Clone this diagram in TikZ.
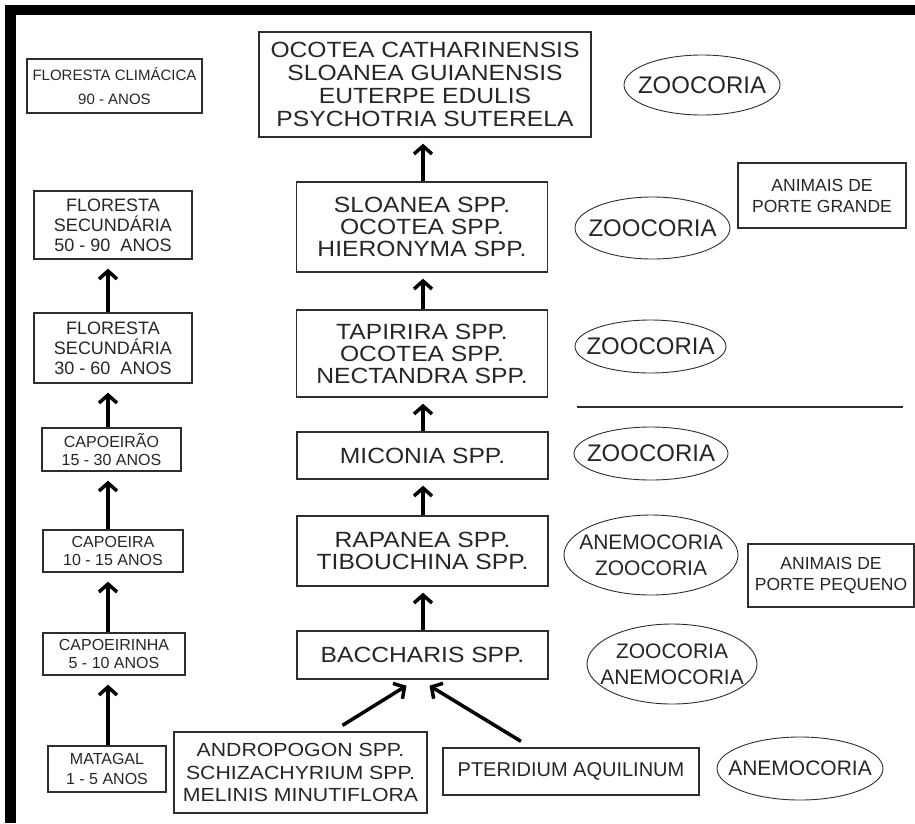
\documentclass[tikz,border=0pt]{standalone}
\usepackage{fontspec}
\setmainfont{Liberation Sans}
\newfontfamily\widefont[FakeStretch=1.12]{Liberation Sans}
\usetikzlibrary{arrows.meta, shapes.geometric}

\begin{document}
\begin{tikzpicture}[x=1pt, y=-1pt,
    box/.style={draw=lineColour, line width=1.3pt, align=center, inner sep=0pt, text=textColour},
    agebox/.style={box, font=\fontsize{16}{17.5}\selectfont},
    forestbox/.style={box, font=\fontsize{18}{20}\selectfont},
    speciesbox/.style={box, font=\widefont\fontsize{22}{22}\selectfont, minimum width=251pt},
    faunabox/.style={box, font=\fontsize{17.5}{21}\selectfont},
    dispersal/.style={ellipse, draw=lineColour, line width=0.9pt, inner sep=0pt},
    disptext/.style={align=center, inner sep=0pt, text=textColour, font=\fontsize{21}{26}\selectfont},
    flow/.style={-{Straight Barb[length=8pt,width=18pt]}, line width=3.5pt, black}]

    % Define colours
    \definecolor{lineColour}{HTML}{2E2E2E}
    \definecolor{textColour}{HTML}{262626}

    % Fix the page size
    \useasboundingbox (0,0) rectangle (915,823);

    % Draw the frame (top and left edges)
    \fill[black] (5,5) rectangle (915,15);
    \fill[black] (5,5) rectangle (16,823);

    % Columns of the arrows
    \coordinate (lcol) at (108,0);
    \coordinate (ccol) at (423,0);

    % Age of the vegetation
    \node[agebox, font=\fontsize{15}{24}\selectfont, minimum width=175pt, minimum height=54pt] (clim) at (114.5,86) {FLORESTA CLIMÁCICA\\90 - ANOS};
    \node[forestbox, minimum width=158pt, minimum height=68pt] (sec50) at (113,225) {FLORESTA\\SECUNDÁRIA\\50 - 90 \ ANOS};
    \node[forestbox, minimum width=158pt, minimum height=70pt] (sec30) at (113,348) {FLORESTA\\SECUNDÁRIA\\30 - 60 \ ANOS};
    \node[agebox, minimum width=139pt, minimum height=43pt] (capoeirao) at (111.5,449.5) {CAPOEIRÃO\\15 - 30 ANOS};
    \node[agebox, minimum width=140pt, minimum height=42pt] (capoeira) at (113,551) {CAPOEIRA\\10 - 15 ANOS};
    \node[agebox, minimum width=142pt, minimum height=42pt] (capoeirinha) at (114,654) {CAPOEIRINHA\\5 - 10 ANOS};
    \node[agebox, font=\fontsize{16}{20}\selectfont, minimum width=118pt, minimum height=46pt] (matagal) at (107,769) {MATAGAL\\1 - 5 ANOS};

    % Species of each stage
    \node[speciesbox, font=\widefont\fontsize{22}{23}\selectfont, minimum width=332pt, minimum height=105pt] (climax) at (425,84.5) {OCOTEA CATHARINENSIS\\SLOANEA GUIANENSIS\\EUTERPE EDULIS\\PSYCHOTRIA SUTERELA};
    \node[speciesbox, minimum height=90pt] (sloanea) at (422,227) {SLOANEA SPP.\\OCOTEA SPP.\\HIERONYMA SPP.};
    \node[speciesbox, minimum height=87pt] (tapirira) at (422,353.5) {TAPIRIRA SPP.\\OCOTEA SPP.\\NECTANDRA SPP.};
    \node[speciesbox, minimum height=47pt] (miconia) at (422.5,455.5) {MICONIA SPP.};
    \node[speciesbox, minimum height=70pt] (rapanea) at (422.5,551) {RAPANEA SPP.\\TIBOUCHINA SPP.};
    \node[speciesbox, minimum height=48pt] (baccharis) at (422.5,655) {BACCHARIS SPP.};
    \node[speciesbox, font=\widefont\fontsize{19}{22.5}\selectfont, minimum width=253pt, minimum height=81pt] (andropogon) at (300.5,772.5) {ANDROPOGON SPP.\\SCHIZACHYRIUM SPP.\\MELINIS MINUTIFLORA};
    \node[speciesbox, font=\fontsize{20}{22}\selectfont, minimum width=256pt, minimum height=47pt] (pteridium) at (571,771.5) {PTERIDIUM AQUILINUM};

    % Seed dispersal
    \node[dispersal, minimum width=156pt, minimum height=60pt, label={[disptext, font=\fontsize{24}{26}\selectfont]center:ZOOCORIA}] (zooA) at (702,85) {};
    \node[dispersal, minimum width=155pt, minimum height=62pt, label={[disptext, font=\fontsize{24}{26}\selectfont]center:ZOOCORIA}] (zooB) at (652.5,228) {};
    \node[dispersal, minimum width=151pt, minimum height=53pt, label={[disptext, font=\fontsize{24}{26}\selectfont]center:ZOOCORIA}] (zooC) at (650.5,346.5) {};
    \node[dispersal, minimum width=154pt, minimum height=53pt, label={[disptext, font=\fontsize{24}{26}\selectfont]center:ZOOCORIA}] (zooD) at (651,453.5) {};
    \node[dispersal, minimum width=174pt, minimum height=80pt, label={[disptext]center:ANEMOCORIA\\ZOOCORIA}] (anezoo) at (651,555) {};
    \node[dispersal, minimum width=170pt, minimum height=80pt, label={[disptext]center:ZOOCORIA\\ANEMOCORIA}] (zooane) at (672,664) {};
    \node[dispersal, minimum width=166pt, minimum height=63pt, label={[disptext]center:ANEMOCORIA}] (ane) at (800,768.5) {};

    % Dispersers
    \node[faunabox, minimum width=168pt, minimum height=65pt] (grande) at (822,195.5) {ANIMAIS DE\\PORTE GRANDE};
    \node[faunabox, minimum width=166pt, minimum height=63pt] (pequeno) at (831,575.5) {ANIMAIS DE\\PORTE PEQUENO};

    % Divider between the two groups
    \draw[lineColour, line width=1.3pt] (577,407) -- (903,407);

    % Draw the succession arrows
    \foreach \a/\b in {matagal/capoeirinha, capoeirinha/capoeira, capoeira/capoeirao, capoeirao/sec30, sec30/sec50}
        \draw[flow, shorten >=9pt] (\a.north -| lcol) -- (\b.south -| lcol);
    \foreach \a/\b in {baccharis/rapanea, rapanea/miconia, miconia/tapirira, tapirira/sloanea, sloanea/climax}
        \draw[flow, shorten >=6pt] (\a.north -| ccol) -- (\b.south -| ccol);

    \draw[flow] ([xshift=42pt,yshift=6pt]andropogon.north) -- ([xshift=-16pt,yshift=-6pt]baccharis.south);
    \draw[flow] ([xshift=-50pt,yshift=6pt]pteridium.north) -- ([xshift=7pt,yshift=-6pt]baccharis.south);

\end{tikzpicture}
\end{document}
